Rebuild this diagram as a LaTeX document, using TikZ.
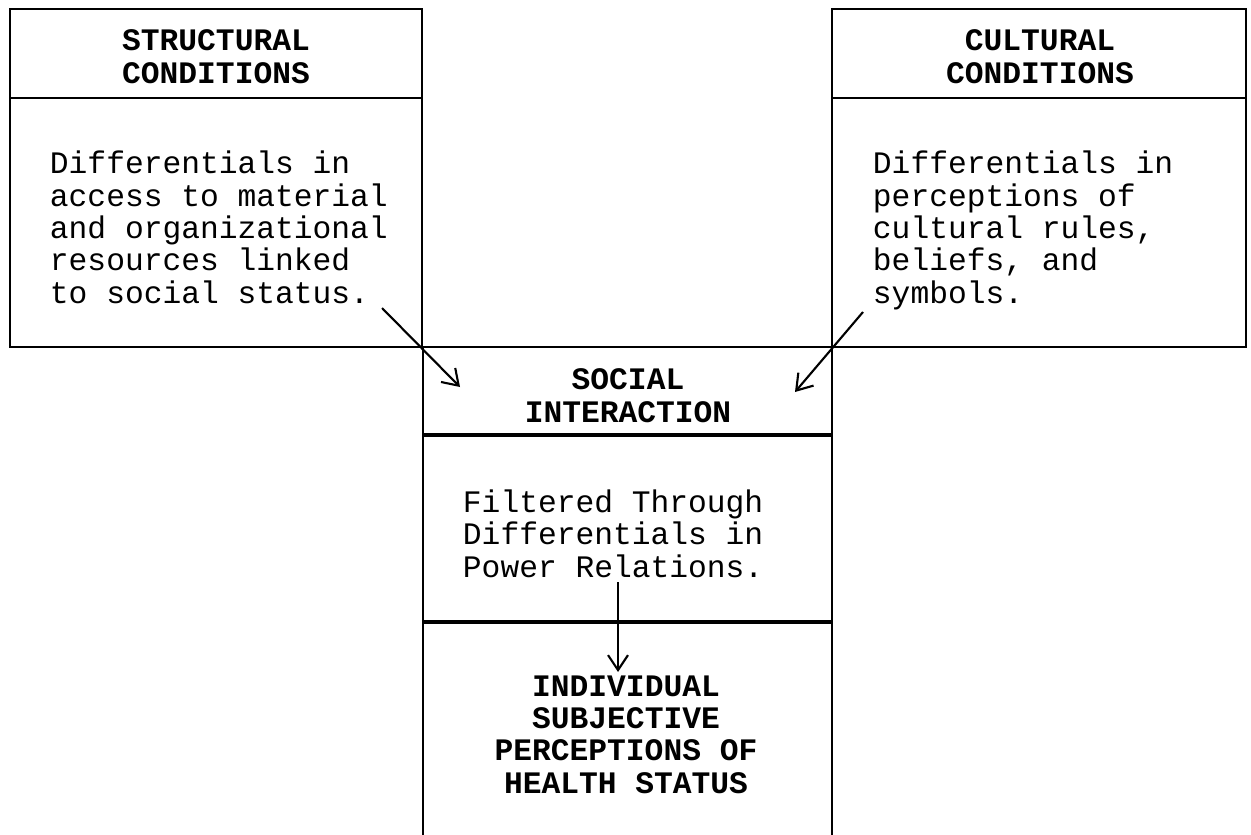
\documentclass[tikz,border=0pt]{standalone}
\usepackage{fontspec}
\setmonofont{Liberation Mono}
\usetikzlibrary{arrows.meta}
\begin{document}
\begin{tikzpicture}[x=0.02cm,y=-0.02cm,line width=1.1pt,
    head/.style={font=\ttfamily\bfseries\fontsize{17.8}{18.4}\selectfont,align=center,inner sep=0pt,anchor=base},
    body/.style={font=\ttfamily\fontsize{17.8}{18.4}\selectfont,align=left,inner sep=0pt,anchor=base west},
    arr/.style={-{Straight Barb[length=3mm,width=4mm]},line width=1.2pt}]
    \useasboundingbox (0,0) rectangle (1251,835);
    % side boxes
    \draw (10,9) rectangle (422,347);
    \draw (10,98) -- (422,98);
    \draw (832,9) rectangle (1246,347);
    \draw (832,98) -- (1246,98);
    % middle box, open at the bottom
    \draw (423,835) -- (423,347) -- (832,347) -- (832,835);
    \draw[line width=2pt] (423,435) -- (832,435);
    \draw[line width=2pt] (423,622) -- (832,622);
    % texts (placed by the baseline of their last line)
    \node[head] (struct) at (216,83) {STRUCTURAL\\CONDITIONS};
    \node[body] (sbody) at (49,303) {Differentials in\\access to material\\and organizational\\resources linked\\to social status.};
    \node[head] (cult) at (1040,83) {CULTURAL\\CONDITIONS};
    \node[body] (cbody) at (872,303) {Differentials in\\perceptions of\\cultural rules,\\beliefs, and\\symbols.};
    \node[head] (social) at (628,422) {SOCIAL\\INTERACTION};
    \node[body] (filter) at (462,577) {Filtered Through\\Differentials in\\Power Relations.};
    \node[head] (indiv) at (626,793) {INDIVIDUAL\\SUBJECTIVE\\PERCEPTIONS OF\\HEALTH STATUS};
    % arrows
    \coordinate (s1) at (382,308);
    \coordinate (s2) at (460,387);
    \coordinate (c1) at (863,312);
    \coordinate (c2) at (795,392);
    \coordinate (f1) at (618,582);
    \coordinate (f2) at (618,672);
    \draw[arr] (s1) -- (s2);
    \draw[arr] (c1) -- (c2);
    \draw[arr] (f1) -- (f2);
\end{tikzpicture}
\end{document}
